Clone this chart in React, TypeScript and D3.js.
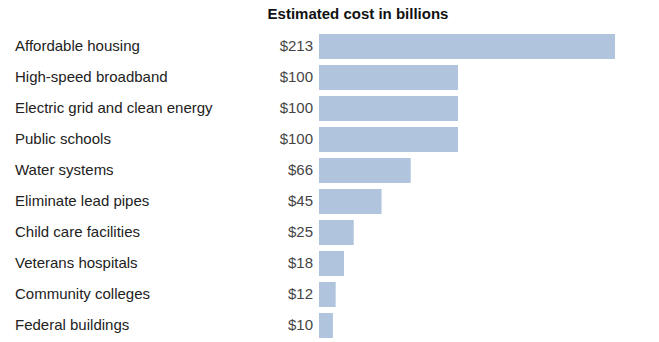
import React from "react";
import * as d3 from "d3";

const categories = [
  "Affordable housing",
  "High-speed broadband",
  "Electric grid and clean energy",
  "Public schools",
  "Water systems",
  "Eliminate lead pipes",
  "Child care facilities",
  "Veterans hospitals",
  "Community colleges",
  "Federal buildings",
];
const values = [213, 100, 100, 100, 66, 45, 25, 18, 12, 10];
const title = "Estimated cost in billions";

const W = 659;
const H = 342;

export default function App() {
  const x = d3.scaleLinear().domain([0, 213]).range([319, 615]);
  const y = d3
    .scaleBand<string>()
    .domain(categories)
    .range([31, 341])
    .paddingInner(0.1935)
    .paddingOuter(0.0968);
  const font = "'Liberation Sans', Arial, sans-serif";
  return (
    <svg
      width={W}
      height={H}
      style={{ position: "absolute", left: 0, top: 0, background: "#fff" }}
      fontFamily={font}
    >
      <text x={358} y={19} textAnchor="middle" fontSize={15} fontWeight="bold" fill="#111">
        {title}
      </text>
      {categories.map((c, i) => {
        const yc = (y(c) ?? 0) + y.bandwidth() / 2 - 1;
        return (
          <g key={c}>
            <text x={15} y={yc} dy="0.35em" fontSize={15} fill="#222">
              {c}
            </text>
            <text x={313} y={yc} dy="0.35em" textAnchor="end" fontSize={15} fill="#444">
              {d3.format("$")(values[i])}
            </text>
            <rect
              x={x(0)}
              y={y(c)}
              width={x(values[i]) - x(0)}
              height={y.bandwidth()}
              fill="#b0c4de"
            />
          </g>
        );
      })}
    </svg>
  );
}
